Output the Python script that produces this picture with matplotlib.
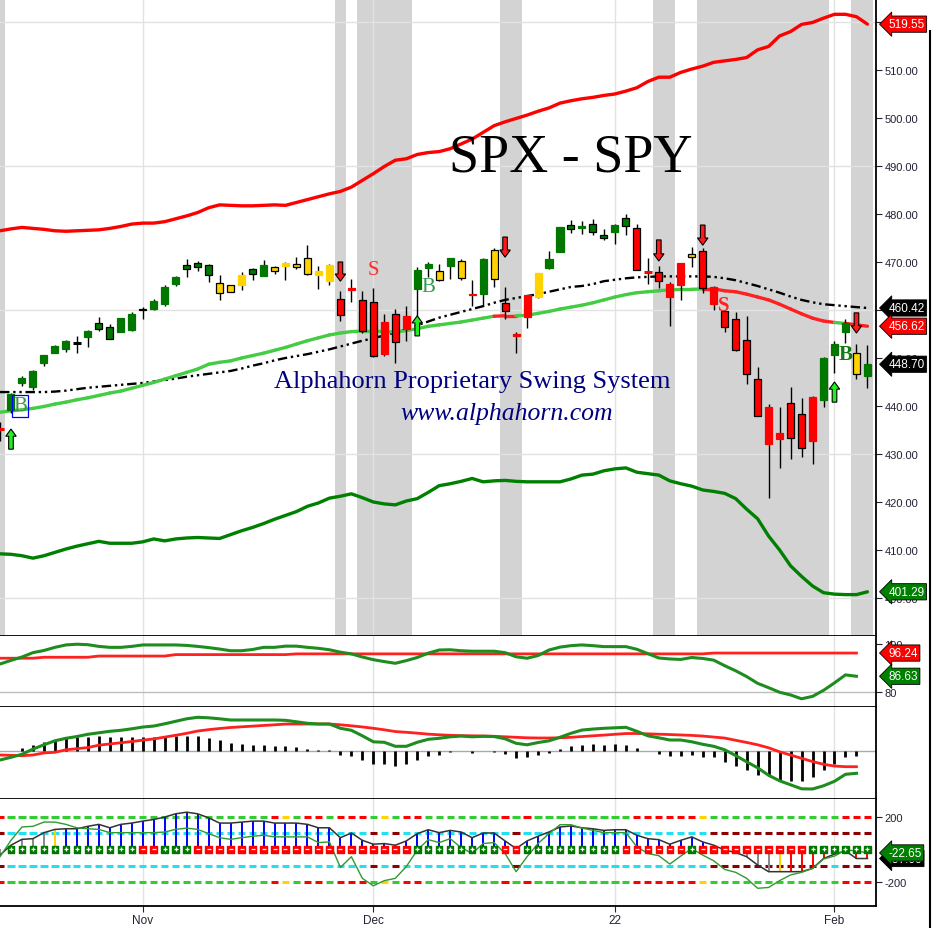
import matplotlib
matplotlib.use('Agg')
import matplotlib.pyplot as plt
from matplotlib.patches import Rectangle, FancyArrow
from matplotlib.lines import Line2D
import numpy as np

# daily bars, index -1 = Oct 13 2021 ... 78 = Feb 4 2022
opens = [435.19, 439.08, 444.75, 443.97, 448.92, 451.13, 451.77, 453.13, 454.28, 457.20, 456.45, 455.46, 455.87,
         460.30, 460.22, 461.30, 465.36, 469.28, 469.70, 469.32, 465.58, 465.21, 465.12, 468.64, 467.15, 469.00,
         469.24, 469.61, 470.89, 467.22, 466.06, 462.34, 464.07, 462.00,
         461.64, 450.73, 459.17, 456.13, 464.41, 468.70, 468.15, 469.23, 470.19, 463.09, 463.42, 472.57, 461.55,
         454.48, 458.61, 462.79, 468.75, 472.06, 477.72, 476.98, 477.93, 475.64,
         476.30, 479.22, 477.16, 467.89, 467.95, 462.70, 465.23, 471.59, 472.19, 461.19, 459.74, 458.13, 453.75,
         445.56, 432.03, 433.06, 440.72, 438.26, 432.68, 441.24,
         450.68, 455.50, 450.95, 446.35]
highs = [436.56, 442.66, 446.26, 447.55, 450.71, 452.73, 453.83, 454.67, 455.90, 458.49, 457.16, 458.40, 459.56,
         460.70, 462.23, 465.15, 467.00, 470.65, 470.23, 469.57, 467.38, 465.29, 467.86, 468.81, 470.49, 469.19,
         470.01, 470.94, 473.54, 469.10, 469.57, 463.90, 466.56, 464.03,
         464.67, 459.07, 460.30, 460.79, 468.88, 470.00, 469.63, 470.90, 470.56, 466.27, 470.86, 472.87, 464.74,
         455.40, 463.21, 467.81, 472.19, 477.31, 478.81, 478.56, 479.00, 476.86,
         477.85, 479.98, 477.98, 470.82, 469.20, 465.74, 469.85, 473.20, 472.88, 465.09, 459.96, 459.61, 458.74,
         448.06, 440.38, 439.72, 444.04, 441.59, 442.00, 450.28,
         453.63, 458.12, 452.97, 452.78]
lows = [432.66, 438.58, 444.09, 443.27, 448.27, 451.01, 451.31, 451.05, 452.39, 455.56, 453.86, 455.45, 455.56,
        458.20, 460.08, 460.83, 464.99, 466.92, 468.20, 465.88, 462.04, 463.75, 464.11, 466.23, 467.07, 467.48,
        466.34, 468.50, 467.35, 464.45, 465.19, 457.77, 461.73, 455.30,
        450.29, 450.31, 448.92, 453.56, 458.65, 466.83, 466.14, 466.51, 466.27, 460.73, 460.74, 464.80, 458.06,
        451.14, 456.31, 462.58, 468.64, 472.01, 476.06, 475.92, 475.67, 474.67,
        473.85, 475.58, 468.28, 465.43, 464.65, 456.60, 462.05, 468.94, 463.44, 459.90, 455.31, 451.46, 444.50,
        437.95, 420.76, 427.15, 428.86, 429.45, 427.82, 439.81,
        446.94, 453.05, 445.71, 443.83]
closes = [435.18, 442.50, 445.87, 447.19, 450.64, 452.41, 453.59, 453.12, 455.55, 455.96, 453.94, 458.32, 459.25,
          460.04, 461.90, 464.72, 466.91, 468.53, 468.93, 467.38, 463.62, 463.77, 467.27, 467.43, 469.28, 468.14,
          469.73, 468.89, 467.57, 468.19, 469.44, 458.97, 464.60, 455.56,
          450.50, 457.40, 453.42, 458.79, 468.28, 469.52, 466.35, 470.74, 466.57, 463.36, 470.60, 466.45, 459.87,
          454.98, 463.06, 467.69, 470.60, 477.26, 476.87, 477.48, 476.16, 474.96,
          477.71, 477.55, 468.38, 467.94, 466.09, 465.51, 469.75, 471.02, 464.53, 464.72, 456.49, 451.75, 446.75,
          437.98, 439.84, 434.47, 433.38, 431.24, 441.95, 449.91,
          452.95, 457.35, 446.60, 448.70]
bar_state = ("r" + "gggggg" + "k" + "gggggggggggg" + "yyy" + "gg" + "yyyyyy" + "rrrrrrr" + "gg" + "y" + "g" + "y"
             + "r" + "g" + "y" + "rrr" + "y" + "gggggggg" + "rrrrr" + "y" + "rrrrrrrrrrr" + "ggg" + "y" + "g")

upper_band = [476.5, 476.9, 477.2, 477.0, 476.8, 476.5, 476.4, 476.5, 476.6, 476.7, 477.0, 477.4, 477.9,
              478.1, 478.1, 478.4, 479.0, 479.6, 480.3, 481.3, 481.9, 481.8, 481.7, 481.7, 481.8, 481.9, 481.8,
              482.4, 483.0, 483.6, 484.2, 484.7, 485.6, 487.0, 488.4, 489.9, 491.2, 491.5, 492.4, 492.8, 493.0,
              493.6, 494.6, 495.6, 497.0, 498.4, 499.2, 499.9, 500.6, 501.4, 502.1, 503.1, 503.6, 504.0, 504.3,
              504.7, 505.0, 505.6, 506.3, 507.6, 508.5, 508.5, 509.5, 510.2, 510.8, 511.6, 511.9, 512.2, 512.6,
              514.2, 514.9, 517.1, 518.0, 519.5, 519.9, 520.8, 521.6, 521.6, 521.1, 519.55]
lower_band = [409.2, 409.1, 408.8, 408.3, 408.8, 409.5, 410.2, 410.8, 411.3, 411.8, 411.4, 411.4, 411.4,
              411.7, 412.3, 411.9, 412.3, 412.5, 412.6, 412.5, 412.4, 413.2, 414.0, 414.7, 415.5, 416.4, 417.2,
              418.0, 419.1, 419.8, 420.8, 421.2, 421.7, 420.9, 420.0, 419.6, 419.4, 420.2, 420.7, 422.0, 423.4,
              423.8, 424.3, 424.9, 424.2, 424.4, 424.5, 424.3, 424.2, 424.2, 424.2, 424.2, 424.8, 425.6, 425.8,
              426.5, 426.9, 427.1, 426.2, 425.9, 425.6, 424.4, 423.8, 423.3, 422.5, 422.2, 421.8, 420.7, 418.5,
              416.5, 412.9, 410.0, 406.7, 404.5, 402.5, 401.1, 400.8, 400.7, 400.7, 401.29]
mid_ma = [438.7, 439.0, 439.2, 439.5, 439.9, 440.4, 440.8, 441.3, 441.7, 442.2, 442.7, 443.1, 443.7,
          444.3, 444.9, 445.6, 446.3, 447.0, 447.7, 448.7, 449.1, 449.4, 450.0, 450.5, 451.0, 451.6, 452.2,
          452.9, 453.6, 454.2, 454.8, 455.2, 455.5, 455.6, 455.6, 455.5, 455.4, 455.7, 456.1, 456.6, 456.9,
          457.2, 457.5, 457.9, 458.3, 458.7, 458.8, 458.8, 458.9, 459.3, 459.7, 460.2, 460.6, 461.0, 461.5,
          462.1, 462.7, 463.2, 463.6, 463.8, 464.0, 464.2, 464.3, 464.3, 464.4, 464.4, 464.0, 463.8, 463.3,
          462.7, 462.1, 461.2, 460.2, 459.2, 458.3, 457.7, 457.4, 457.2, 456.9, 456.62]
mid_state = "g" * 46 + "rr" + "g" * 17 + "r" * 12 + "g" + "rr"
slow_ma = [442.9, 442.9, 442.9, 442.9, 442.9, 443.0, 443.2, 443.5, 443.8, 444.0, 444.2, 444.4, 444.6,
           444.8, 445.1, 445.4, 445.7, 446.1, 446.4, 446.7, 447.0, 447.3, 447.8, 448.4, 448.9, 449.5, 450.0,
           450.4, 450.8, 451.3, 451.8, 452.4, 453.0, 453.6, 454.1, 454.7, 455.3, 456.0, 456.8, 457.6, 458.4,
           459.0, 459.6, 460.2, 460.8, 461.5, 462.1, 462.5, 462.9, 463.3, 463.8, 464.3, 464.8, 465.0, 465.4,
           466.0, 466.3, 466.6, 466.8, 466.9, 467.0, 467.0, 467.0, 467.0, 467.0, 466.9, 466.6, 466.2, 465.6,
           465.0, 464.3, 463.6, 462.8, 462.1, 461.6, 461.2, 461.0, 460.8, 460.6, 460.42]

shaded_runs = [(-1, -1), (30, 30), (32, 36), (45, 46), (59, 60), (63, 74), (77, 78)]
up_arrow_bar = [0, 37, 75]
up_arrow_base = [431.0, 454.6, 440.8]
up_arrow_tip = [435.2, 458.8, 445.0]
down_arrow_bar = [30, 45, 59, 63, 77]
down_arrow_top = [470.0, 475.2, 474.6, 477.7, 459.4]
down_arrow_tip = [466.0, 471.0, 470.2, 473.5, 455.2]

# oscillator panel (index -1 .. 77)
osc_fast = [91.7, 93.2, 94.6, 96.4, 97.3, 98.6, 99.6, 99.9, 99.7, 99.0, 98.6, 98.6, 99.0,
            99.6, 99.6, 99.6, 99.6, 99.4, 99.0, 98.5, 97.9, 97.2, 97.2, 97.7, 98.6, 98.6, 99.1,
            99.1, 98.6, 98.2, 97.6, 96.6, 95.9, 94.6, 93.5, 92.7, 92.0, 93.1, 94.4, 96.2, 97.5,
            97.6, 97.2, 97.0, 97.0, 97.0, 96.4, 94.7, 94.1, 95.2, 97.5, 98.7, 99.3, 99.6, 99.3,
            98.9, 98.9, 98.9, 97.8, 96.0, 94.2, 93.8, 93.6, 94.4, 94.0, 93.3, 91.0, 88.9, 86.5,
            83.7, 81.9, 80.0, 78.9, 77.3, 78.3, 80.8, 83.9, 87.2, 86.63]
osc_slow = [94.1] * 4 + [94.5] * 5 + [95.0] * 7 + [95.6] * 11 + [95.9] * 38 + [96.24] * 14

# macd panel (index -1 .. 77)
macd_line = [-1.74, -1.2, -0.6, 0.44, 1.3, 2.1, 2.6, 2.95, 3.4, 3.7, 4.0, 4.2, 4.5,
             4.85, 5.05, 5.5, 6.0, 6.5, 6.8, 6.7, 6.5, 6.26, 6.26, 6.26, 6.26, 6.26, 6.2,
             5.9, 5.6, 5.46, 5.46, 4.6, 4.2, 3.1, 1.9, 1.8, 1.0, 1.0, 1.8, 2.4, 2.6,
             2.9, 3.05, 2.9, 3.0, 2.95, 2.5, 1.6, 1.3, 1.75, 2.1, 2.8, 3.6, 4.25, 4.45,
             4.6, 4.7, 4.8, 4.0, 3.1, 2.7, 2.26, 2.26, 1.9, 1.4, 1.0, 0.3, -0.85, -2.1,
             -3.3, -4.8, -5.9, -6.7, -7.5, -7.54, -6.9, -6.0, -4.6, -4.4]
macd_signal = [-0.74, -0.8, -0.88, -0.74, -0.33, -0.2, 0.3, 0.52, 0.75, 1.22, 1.47, 1.7, 1.96,
               2.22, 2.47, 2.84, 3.2, 3.6, 4.05, 4.33, 4.56, 4.76, 4.9, 5.03, 5.17, 5.3, 5.45,
               5.46, 5.46, 5.46, 5.46, 5.3, 5.1, 4.87, 4.6, 4.3, 3.95, 3.8, 3.63, 3.43, 3.3,
               3.2, 3.13, 3.1, 3.06, 3.0, 2.9, 2.8, 2.7, 2.66, 2.66, 2.7, 2.8, 2.95, 3.1,
               3.24, 3.4, 3.55, 3.56, 3.49, 3.42, 3.35, 3.27, 3.18, 3.05, 2.85, 2.65, 2.2, 1.77,
               1.3, 0.7, -0.1, -0.75, -1.4, -2.05, -2.6, -2.95, -3.08, -3.08]
macd_hist = [0.0, 0.1, 0.67, 1.33, 1.8, 2.27, 2.6, 2.8, 2.93, 3.13, 2.93, 2.93, 2.93,
             2.93, 2.93, 2.93, 3.13, 3.13, 3.13, 2.67, 2.33, 1.67, 1.47, 1.27, 1.27, 1.13, 1.13,
             0.8, 0.47, 0.27, 0.27, -0.73, -1.0, -1.67, -2.53, -2.53, -2.87, -2.53, -1.73, -0.87, -0.73,
             -0.07, 0.0, -0.33, 0.0, -0.07, -0.53, -1.27, -1.07, -0.73, -0.33, 0.47, 1.13, 1.33, 1.47,
             1.27, 1.47, 1.27, 0.67, 0.0, -0.53, -0.87, -0.87, -0.73, -1.07, -1.2, -2.07, -2.87, -3.67,
             -4.67, -4.87, -5.73, -5.87, -5.87, -5.07, -3.73, -2.53, -1.07, -0.87]

# cci panel (index -1 .. 78)
cci_black = [-36, 25, 61, 65, 102, 122, 126, 126, 141, 153, 132, 153, 161,
             173, 183, 198, 218, 228, 218, 193, 161, 161, 167, 173, 173, 161, 161,
             161, 153, 132, 132, 71, 100, 55, 31, 35, 25, 51, 96, 120, 102,
             116, 106, 71, 100, 100, 51, 4, 51, 80, 106, 137, 143, 132, 126,
             116, 120, 120, 86, 65, 59, 31, 55, 76, 45, 25, -5, -20, -46,
             -97, -138, -138, -138, -138, -118, -57, -30, -10, -57, -57]
cci_green = [-46, 55, 137, 141, 167, 167, 153, 132, 126, 122, 102, 102, 102,
             102, 102, 106, 122, 130, 122, 96, 71, 61, 71, 80, 86, 76, 76,
             76, 76, 41, 45, -112, -46, -179, -225, -193, -179, -107, -5, 59, 41,
             65, 10, -26, 35, 41, -26, -138, -46, 35, 96, 151, 151, 130, 116,
             102, 102, 102, 15, -26, -40, -91, -42, 4, -36, -71, -124, -142, -179,
             -240, -235, -193, -158, -142, -118, -60, -42, -5, -10, -22.65]
stem_state = "a" + "aaaa" + "y" + "b" * 60 + "aaaaa" + "y" + "r" * 8
square_state = ("g" * 12 + "rr" + "ggg" + "r" * 20 + "g" * 8 + "rr" + "g" * 9 + "r" * 6 + "g"
                + "r" * 10 + "g" * 6)
lvl200_state = ("r" + "G" * 24 + "ryG" + "rrG" + "rrrGyG" + "rr" + "G" * 7 + "rGr" + "G" * 9 + "r" * 6 + "y"
                + "G" * 12 + "rrr")
lvl100_top = "d" + "c" * 33 + "dcd" + "c" * 10 + "d" + "c" * 17 + "d" * 15
lvl100_bot = "d" + "c" * 33 + "dcd" + "c" * 10 + "d" + "c" * 17 + "d" * 11 + "c" + "ddd"

month_pos = [12, 33, 55, 75]
month_lab = ['Nov', 'Dec', '22', 'Feb']

cmap = {'g': '#007800', 'G': '#33cc33', 'r': '#ff0000', 'y': '#ffd200', 'k': 'black',
        'b': '#0000ff', 'a': '#888888', 'c': '#22e0f0', 'd': '#8b0000'}

W, H = 932, 929
fig = plt.figure(figsize=(W / 100, H / 100), dpi=100)


def rect(top, bottom):
    return [0, 1 - bottom / H, 876 / W, (bottom - top) / H]


ax = fig.add_axes(rect(0, 637))
ax2 = fig.add_axes(rect(637, 708))
ax3 = fig.add_axes(rect(708, 800))
ax4 = fig.add_axes(rect(800, 907))
axes = [ax, ax2, ax3, ax4]
tick_font = ['Liberation Sans Narrow', 'Liberation Sans', 'DejaVu Sans']

for a in axes:
    a.set_xlim(-1.0, 78.78)
    a.spines['left'].set_visible(False)
    a.spines['top'].set_visible(False)
    for s in ('right', 'bottom'):
        a.spines[s].set_color('black')
        a.spines[s].set_linewidth(1.3)
    a.yaxis.tick_right()
    a.tick_params(axis='y', direction='out', length=4, width=0.8, labelsize=8, colors='#222233', pad=2)
    a.tick_params(axis='x', bottom=False, labelbottom=False)
    for m in month_pos:
        a.axvline(m, color='#e2e2e2', lw=1, zorder=0.5)

x = np.arange(-1, 79)
xs = np.arange(-1, 78)

# ---- main price panel ----
ax.set_ylim(392.08, 524.79)
for a0, b0 in shaded_runs:
    ax.axvspan(a0 - 0.5, b0 + 0.5, color='#d3d3d3', lw=0, zorder=0.2)
for v in range(400, 521, 30):
    ax.axhline(v, color='#e2e2e2', lw=1, zorder=0.5)
ticks = list(range(400, 521, 10))
ax.set_yticks(ticks)
# 520 and 460 sit fully under the value tags in the reference
ax.set_yticklabels(['' if t in (520, 460) else f'{t:.2f}' for t in ticks], family=tick_font)

ax.plot(x, upper_band, color='#ff0000', lw=2.4, zorder=2, solid_capstyle='round')
ax.plot(x, lower_band, color='#008000', lw=2.4, zorder=2, solid_capstyle='round')
ax.plot(x, slow_ma, color='black', lw=1.7, dashes=(4, 1.6, 1, 1.6, 1, 1.6), zorder=2)
for k in range(1, len(x)):
    c = '#ff2020' if mid_state[k] == 'r' else '#44cc44'
    ax.plot(x[k - 1:k + 1], mid_ma[k - 1:k + 1], color=c, lw=2.4, zorder=2.1, solid_capstyle='round')

for k, i in enumerate(x):
    o, h, l, c = opens[k], highs[k], lows[k], closes[k]
    fc = cmap[bar_state[k]]
    ax.vlines(i, l, h, color='black', lw=1, zorder=3)
    if abs(c - o) < 0.2:
        ax.hlines((o + c) / 2, i - 0.34, i + 0.34, color=fc, lw=2.2, zorder=4)
    else:
        ec = 'black' if c < o else fc
        ax.add_patch(Rectangle((i - 0.32, min(o, c)), 0.64, abs(c - o), fc=fc, ec=ec, lw=0.9, zorder=4))

for b, y0, y1 in zip(up_arrow_bar, up_arrow_base, up_arrow_tip):
    ax.add_patch(FancyArrow(b, y0, 0, y1 - y0, width=0.42, head_width=0.95, head_length=1.5,
                            length_includes_head=True, fc='#22ee22', ec='black', lw=0.8, zorder=6))
for b, y0, y1 in zip(down_arrow_bar, down_arrow_top, down_arrow_tip):
    ax.add_patch(FancyArrow(b, y0, 0, y1 - y0, width=0.42, head_width=0.95, head_length=1.5,
                            length_includes_head=True, fc='#ff1a1a', ec='black', lw=0.8, zorder=6))

serif = 'Liberation Serif'
ax.text(33, 468.5, 'S', color='#ff2a2a', family=serif, fontsize=15, ha='center', va='center', zorder=7)
ax.text(64.9, 461.0, 'S', color='#ff2222', family=serif, fontsize=15, fontweight='bold',
        ha='center', va='center', zorder=7)
ax.text(0.82, 440.0, 'B', color='#3a9a3a', family=serif, fontsize=15, ha='center', va='center', zorder=7,
        bbox=dict(boxstyle='square,pad=0.05', fc='none', ec='#0000ff', lw=0.9))
ax.text(37.98, 464.8, 'B', color='#2e9a50', family=serif, fontsize=15, ha='center', va='center', zorder=7)
ax.text(76.05, 450.8, 'B', color='#127a12', family=serif, fontsize=15, fontweight='bold',
        ha='center', va='center', zorder=7)

fig.text(571 / W, 1 - 158 / H, 'SPX - SPY', family=serif, fontsize=39, ha='center', va='center')
fig.text(472 / W, 1 - 382 / H, 'Alphahorn Proprietary Swing System', family=serif, fontsize=19,
         color='#000080', ha='center', va='center')
fig.text(507 / W, 1 - 414 / H, 'www.alphahorn.com', family=serif, fontsize=18.5, style='italic',
         color='#000080', ha='center', va='center')


def tag(a, y, fc):
    a.text(1.014, y, f'{y:.2f}', transform=a.get_yaxis_transform(), color='white', fontsize=8.5,
           family=tick_font, ha='left', va='center', clip_on=False, zorder=10,
           bbox=dict(boxstyle='larrow,pad=0.18', fc=fc, ec='black', lw=0.6))


tag(ax, upper_band[-1], '#ff0000')
tag(ax, slow_ma[-1], 'black')
tag(ax, mid_ma[-1], '#ff0000')
tag(ax, closes[-1], 'black')
tag(ax, lower_band[-1], '#008000')

# ---- oscillator panel ----
ax2.set_ylim(73.9, 103.3)
ax2.axhline(80, color='#bdbdbd', lw=1, zorder=0.6)
ax2.set_yticks([80, 100])
ax2.set_yticklabels(['80', '100'], family=tick_font)
ax2.plot(xs, osc_slow, color='#ff2020', lw=2.0, zorder=2)
ax2.plot(xs, osc_fast, color='#1e8c1e', lw=2.2, zorder=3)
tag(ax2, osc_slow[-1], '#ff0000')
tag(ax2, osc_fast[-1], '#008000')

# ---- macd panel ----
ax3.set_ylim(-9.54, 8.86)
ax3.set_yticks([])
ax3.axhline(0, color='#aaaaaa', lw=1, zorder=0.6)
ax3.vlines(xs, 0, macd_hist, color='black', lw=2, zorder=1)
ax3.plot(xs, macd_signal, color='#ff2020', lw=2.0, zorder=2)
ax3.plot(xs, macd_line, color='#1e8c1e', lw=2.2, zorder=3)

# ---- cci panel ----
ax4.set_ylim(-349, 309)
ax4.set_yticks([-200, 200])
ax4.set_yticklabels(['-200', '200'], family=tick_font)
for k, i in enumerate(x):
    ax4.hlines([200, -200], i - 0.33, i + 0.33, color=cmap[lvl200_state[k]], lw=2.2, zorder=1)
    ax4.hlines(100, i - 0.33, i + 0.33, color=cmap[lvl100_top[k]], lw=2.2, zorder=1)
    ax4.hlines(-100, i - 0.33, i + 0.33, color=cmap[lvl100_bot[k]], lw=2.2, zorder=1)
    ax4.vlines(i, 0, cci_black[k], color=cmap[stem_state[k]], lw=1.4, zorder=2)
ax4.plot(x, cci_black, color='#333333', lw=1.1, zorder=3)
ax4.plot(x, cci_green, color='#2f9a2f', lw=1.0, zorder=3)
sq_x = x[1:]
sq_c = [cmap[s] for s in square_state]
ax4.scatter(sq_x, np.zeros(len(sq_x)), marker='s', s=22, c=sq_c, edgecolors=sq_c, zorder=4)
gx = [i for i, s in zip(sq_x, square_state) if s == 'g']
rx = [i for i, s in zip(sq_x, square_state) if s == 'r']
ax4.scatter(gx, np.zeros(len(gx)), marker='+', s=9, c='white', linewidths=0.9, zorder=5)
ax4.scatter(rx, np.zeros(len(rx)), marker='_', s=9, c='white', linewidths=0.9, zorder=5)
tag(ax4, cci_black[-1], 'black')
tag(ax4, cci_green[-1], '#008000')

ax4.set_xticks(month_pos)
ax4.set_xticklabels(month_lab, family=tick_font)
ax4.tick_params(axis='x', bottom=True, labelbottom=True, direction='out', length=4, labelsize=8.5,
                colors='#222233', pad=2)

fig.add_artist(Line2D([929.5 / W, 929.5 / W], [0, 1 - 32 / H], color='black', lw=1.5))

fig.savefig('out.png', dpi=100)
